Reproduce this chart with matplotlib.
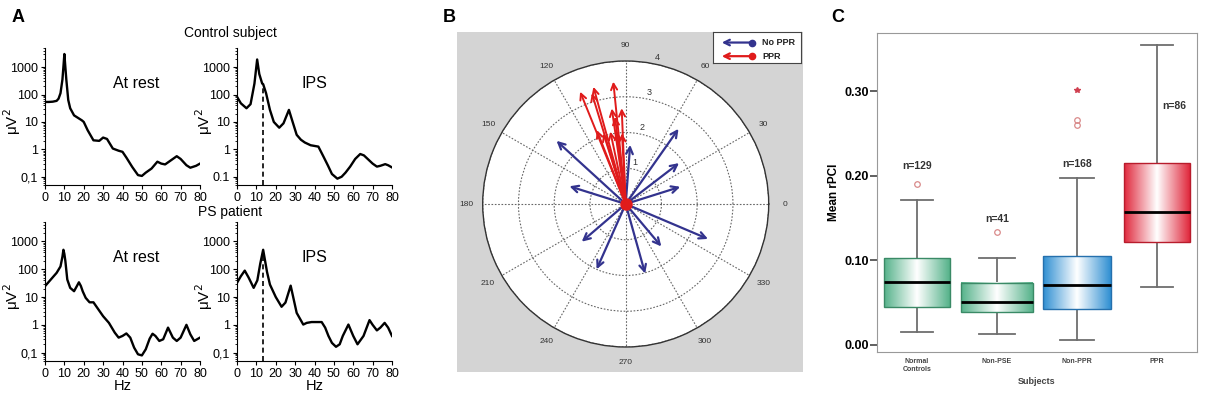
import numpy as np
import matplotlib
matplotlib.use('Agg')
import matplotlib.pyplot as plt
from matplotlib.colors import LinearSegmentedColormap
from matplotlib.patches import Rectangle

plt.rcParams['font.family'] = ['Liberation Sans', 'DejaVu Sans']

# ---- panel A: power spectra (log10 of uV^2) ----
ctrl_rest_f = [0, 2, 4, 6, 7, 8, 9, 9.6, 10, 10.4, 11, 12, 13, 15, 17, 19, 20, 22, 25, 28, 30, 32, 35, 38,
               40, 42, 45, 48, 50, 52, 55, 58, 60, 62, 65, 68, 70, 73, 75, 78, 80]
ctrl_rest_log = [1.73, 1.73, 1.74, 1.77, 1.85, 2.05, 2.55, 3.1, 3.48, 3.1, 2.55, 1.8, 1.5, 1.24, 1.15, 1.06,
                 1.0, 0.7, 0.33, 0.31, 0.43, 0.38, 0.03, -0.05, -0.09, -0.3, -0.64, -0.94, -0.97, -0.85,
                 -0.7, -0.45, -0.52, -0.55, -0.4, -0.25, -0.35, -0.58, -0.67, -0.6, -0.52]

ctrl_ips_f = [0, 2, 4.9, 7, 9, 10.4, 11.5, 13, 13.5, 15, 17, 19, 21.8, 24, 26.8, 28.5, 30.8, 33, 35, 38, 42,
              44.6, 47, 49, 51.8, 54, 56, 58.4, 61, 63.6, 65.5, 67.9, 70, 72.2, 74, 76.5, 78, 80]
ctrl_ips_log = [1.92, 1.68, 1.5, 1.65, 2.4, 3.28, 2.75, 2.4, 2.38, 2.05, 1.44, 1.0, 0.79, 0.95, 1.44, 1.05,
                0.53, 0.35, 0.25, 0.15, 0.1, -0.26, -0.6, -0.9, -1.07, -1.0, -0.85, -0.63, -0.35, -0.17,
                -0.22, -0.38, -0.52, -0.63, -0.6, -0.54, -0.58, -0.66]

ps_rest_f = [0, 3, 6, 8, 9, 9.5, 10, 10.5, 11.5, 13, 15, 16.5, 17.5, 18.5, 19.5, 21, 23, 25, 27, 30, 33, 36,
             38, 40, 42, 44, 46, 48, 50, 52, 54, 55.5, 57, 59, 61, 63.5, 66, 68, 70, 73, 75, 77, 80]
ps_rest_log = [1.39, 1.63, 1.87, 2.1, 2.45, 2.7, 2.55, 2.3, 1.63, 1.33, 1.21, 1.4, 1.53, 1.4, 1.2, 0.97, 0.81,
               0.81, 0.61, 0.31, 0.07, -0.28, -0.46, -0.4, -0.31, -0.46, -0.82, -1.06, -1.1, -0.88, -0.5,
               -0.32, -0.4, -0.58, -0.52, -0.1, -0.46, -0.58, -0.46, 0.0, -0.34, -0.58, -0.46]

ps_ips_f = [0, 2, 4, 6, 8.6, 10.5, 12, 13.5, 14.5, 15.5, 17, 20, 23, 25, 27.7, 29, 30.8, 34.2, 36, 38.5, 43.7,
            45.5, 47.2, 49, 51.1, 53, 54.6, 57.5, 60, 62.2, 65.3, 68.4, 70, 72.2, 74, 76.2, 78, 80]
ps_ips_log = [1.51, 1.75, 1.95, 1.7, 1.33, 1.6, 2.2, 2.7, 2.3, 1.9, 1.45, 1.0, 0.65, 0.8, 1.41, 1.0, 0.43, 0.01,
              0.07, 0.1, 0.1, -0.1, -0.4, -0.65, -0.79, -0.7, -0.4, 0.01, -0.4, -0.7, -0.4, 0.17, 0.0, -0.2,
              -0.1, 0.07, -0.1, -0.4]

ips_freq = 13.5
a_yticks = [0.1, 1, 10, 100, 1000]

# ---- panel B: compass arrows (angle deg, length) ----
noppr_ang = [137.6, 162.5, 85.7, 54.9, 37.5, 17.5, 337, 310, 285.6, 246, 220.6]
noppr_r = [2.62, 1.65, 1.66, 2.57, 1.88, 1.6, 2.5, 1.55, 2.02, 2.0, 1.62]
ppr_ang = [112.1, 105.4, 107, 95.8, 98.3, 92.4, 111.4, 102, 97, 93, 107.5, 97]
ppr_r = [3.39, 3.40, 3.24, 3.44, 2.7, 2.68, 2.22, 2.07, 2.04, 1.98, 2.07, 2.46]

# ---- panel C: boxplot stats ----
groups = ['Normal\nControls', 'Non-PSE', 'Non-PPR', 'PPR']
n_labels = ['n=129', 'n=41', 'n=168', 'n=86']
whislo = [0.0146, 0.0122, 0.0051, 0.0684]
q1 = [0.0447, 0.0388, 0.0427, 0.1219]
med = [0.0744, 0.0499, 0.070, 0.1568]
q3 = [0.102, 0.0732, 0.105, 0.215]
whishi = [0.171, 0.103, 0.197, 0.3547]
fliers = [[0.190], [0.133], [0.2656, 0.2605], []]
extremes = [[], [], [0.301], []]
n_y = [0.211, 0.149, 0.214, 0.283]
n_x = [1.0, 2.0, 3.0, 4.21]
box_w = [0.82, 0.9, 0.85, 0.82]
box_col = ['#55b28a', '#55b28a', '#2f8fd2', '#e0283c']
box_edge = ['#3a8a66', '#3a8a66', '#2570ad', '#b81c2c']

W, H = 1205, 394
fig = plt.figure(figsize=(W / 100, H / 100), dpi=100)


def add_ax(l, t, r, b, **kw):
    return fig.add_axes([l / W, 1 - b / H, (r - l) / W, (b - t) / H], **kw)


def spectrum(ax, f, lv, label_fmt, dashed=False, xlabel=False):
    p = 10 ** np.array(lv)
    ax.plot(f, p, color='black', lw=1.7)
    ax.set_yscale('log')
    ax.set_ylim(0.05, 5000)
    ax.set_xlim(0, 80)
    ax.set_xticks(range(0, 81, 10))
    ax.set_yticks(a_yticks)
    ax.set_yticklabels([label_fmt] + ['1', '10', '100', '1000'])
    ax.spines['top'].set_visible(False)
    ax.spines['right'].set_visible(False)
    ax.tick_params(labelsize=9, length=3, pad=2)
    ax.tick_params(axis='y', which='minor', length=1.5)
    ax.set_ylabel('μV$^2$', fontsize=11)
    ax.yaxis.set_label_coords(-0.14, 0.46)
    if dashed:
        ax.vlines(ips_freq, 0.05, np.interp(ips_freq, f, p), colors='black', linestyles=(0, (3, 2)), lw=1.2)
    if xlabel:
        ax.set_xlabel('Hz', fontsize=10.5, labelpad=-1)


spectrum(add_ax(45, 48, 200, 185), ctrl_rest_f, ctrl_rest_log, '0,1')
spectrum(add_ax(237, 48, 392, 185), ctrl_ips_f, ctrl_ips_log, '0.1', dashed=True)
spectrum(add_ax(45, 222, 200, 361), ps_rest_f, ps_rest_log, '0,1', xlabel=True)
spectrum(add_ax(237, 222, 392, 361), ps_ips_f, ps_ips_log, '0,1', dashed=True, xlabel=True)


def ftext(x, y, s, **kw):
    fig.text(x / W, 1 - y / H, s, ha='center', va='center', **kw)


ftext(230, 33, 'Control subject', fontsize=10)
ftext(230, 212, 'PS patient', fontsize=10)
ftext(136, 83, 'At rest', fontsize=11.5)
ftext(314, 83, 'IPS', fontsize=11.5)
ftext(136, 257, 'At rest', fontsize=11.5)
ftext(314, 257, 'IPS', fontsize=11.5)
ftext(18, 17, 'A', fontsize=13, fontweight='bold')
ftext(449, 17, 'B', fontsize=13, fontweight='bold')
ftext(838, 17, 'C', fontsize=13, fontweight='bold')

# ---- panel B ----
fig.add_artist(Rectangle((457 / W, 1 - 372 / H), 346 / W, 340 / H, transform=fig.transFigure,
                         facecolor='#d4d4d4', edgecolor='none', zorder=-1))
pol = add_ax(482.7, 61, 768.7, 347, projection='polar')
pol.set_ylim(0, 4)
pol.set_yticks([1, 2, 3, 4])
pol.set_yticklabels([])
for r in [1, 2, 3, 4]:
    pol.text(np.deg2rad(78), r + 0.2, str(r), fontsize=6.5, color='#333', ha='center', va='center')
pol.set_thetagrids(range(0, 360, 30), [str(a) for a in range(0, 360, 30)])
pol.tick_params(axis='x', labelsize=6, colors='#333', pad=1)
pol.grid(True, linestyle=(0, (1.5, 1.5)), color='#666', lw=0.8)
pol.spines['polar'].set_color('#333')
pol.spines['polar'].set_linewidth(1)
for a, r in zip(noppr_ang, noppr_r):
    pol.annotate('', xy=(np.deg2rad(a), r), xytext=(0, 0),
                 arrowprops=dict(arrowstyle='->', color='#33338e', lw=1.6, shrinkA=0, shrinkB=0,
                                 mutation_scale=12))
for a, r in zip(ppr_ang, ppr_r):
    pol.annotate('', xy=(np.deg2rad(a), r), xytext=(0, 0),
                 arrowprops=dict(arrowstyle='->', color='#e01b1b', lw=1.4, shrinkA=0, shrinkB=0,
                                 mutation_scale=11))
pol.plot(0, 0, 'o', color='#e01b1b', ms=8, zorder=5)

leg = add_ax(713, 32, 801, 63)
leg.set_xlim(0, 1)
leg.set_ylim(0, 1)
leg.set_xticks([])
leg.set_yticks([])
for sp in leg.spines.values():
    sp.set_color('#444')
for yy, c, lab in [(0.66, '#33338e', 'No PPR'), (0.22, '#e01b1b', 'PPR')]:
    leg.annotate('', xy=(0.1, yy), xytext=(0.44, yy),
                 arrowprops=dict(arrowstyle='->', color=c, lw=1.6, shrinkA=0, shrinkB=0, mutation_scale=10))
    leg.plot(0.44, yy, 'o', color=c, ms=4.5)
    leg.text(0.56, yy, lab, fontsize=6.5, fontweight='bold', va='center', color='#222')

# ---- panel C ----
bx = add_ax(877, 33, 1197, 352)
stats = []
for i in range(4):
    stats.append(dict(med=med[i], q1=q1[i], q3=q3[i], whislo=whislo[i], whishi=whishi[i], fliers=fliers[i]))
pos = np.arange(1, 5)
bp = bx.bxp(stats, positions=pos, widths=box_w, patch_artist=True, showfliers=True,
            whiskerprops=dict(color='#6e6e6e', lw=1.3), capprops=dict(color='#6e6e6e', lw=1.3),
            medianprops=dict(color='black', lw=2, zorder=4),
            flierprops=dict(marker='o', mfc='none', mec='#d98a8a', ms=4, mew=0.9))
grad = np.linspace(0, 1, 256).reshape(1, -1)
for i, patch in enumerate(bp['boxes']):
    patch.set_facecolor('none')
    patch.set_edgecolor(box_edge[i])
    patch.set_linewidth(1)
    patch.set_zorder(3)
    cmap = LinearSegmentedColormap.from_list('g%d' % i, [box_col[i], 'white', box_col[i]])
    bx.imshow(grad, cmap=cmap, aspect='auto', zorder=2,
              extent=(pos[i] - box_w[i] / 2, pos[i] + box_w[i] / 2, q1[i], q3[i]))
for i in range(4):
    for v in extremes[i]:
        bx.plot(pos[i], v, marker='*', color='#d04050', ms=4, ls='none')
    bx.text(n_x[i], n_y[i], n_labels[i], fontsize=7.5, fontweight='bold', color='#333', ha='center', va='center')
bx.set_xlim(0.5, 4.5)
bx.set_ylim(-0.0088, 0.369)
bx.set_yticks([0, 0.1, 0.2, 0.3])
bx.set_yticklabels(['0.00', '0.10', '0.20', '0.30'], fontweight='bold')
bx.set_xticks(pos)
bx.set_xticklabels(groups, fontsize=5, fontweight='bold', color='#444')
bx.tick_params(axis='y', labelsize=9, length=5, width=1.2, color='#444', pad=1)
bx.tick_params(axis='x', length=0, pad=4)
for sp in bx.spines.values():
    sp.set_color('#999')
bx.set_ylabel('Mean rPCI', fontsize=8.5, fontweight='bold', labelpad=3)
bx.set_xlabel('Subjects', fontsize=6.5, fontweight='bold', color='#444', labelpad=3)

fig.savefig('out.png', dpi=100)
